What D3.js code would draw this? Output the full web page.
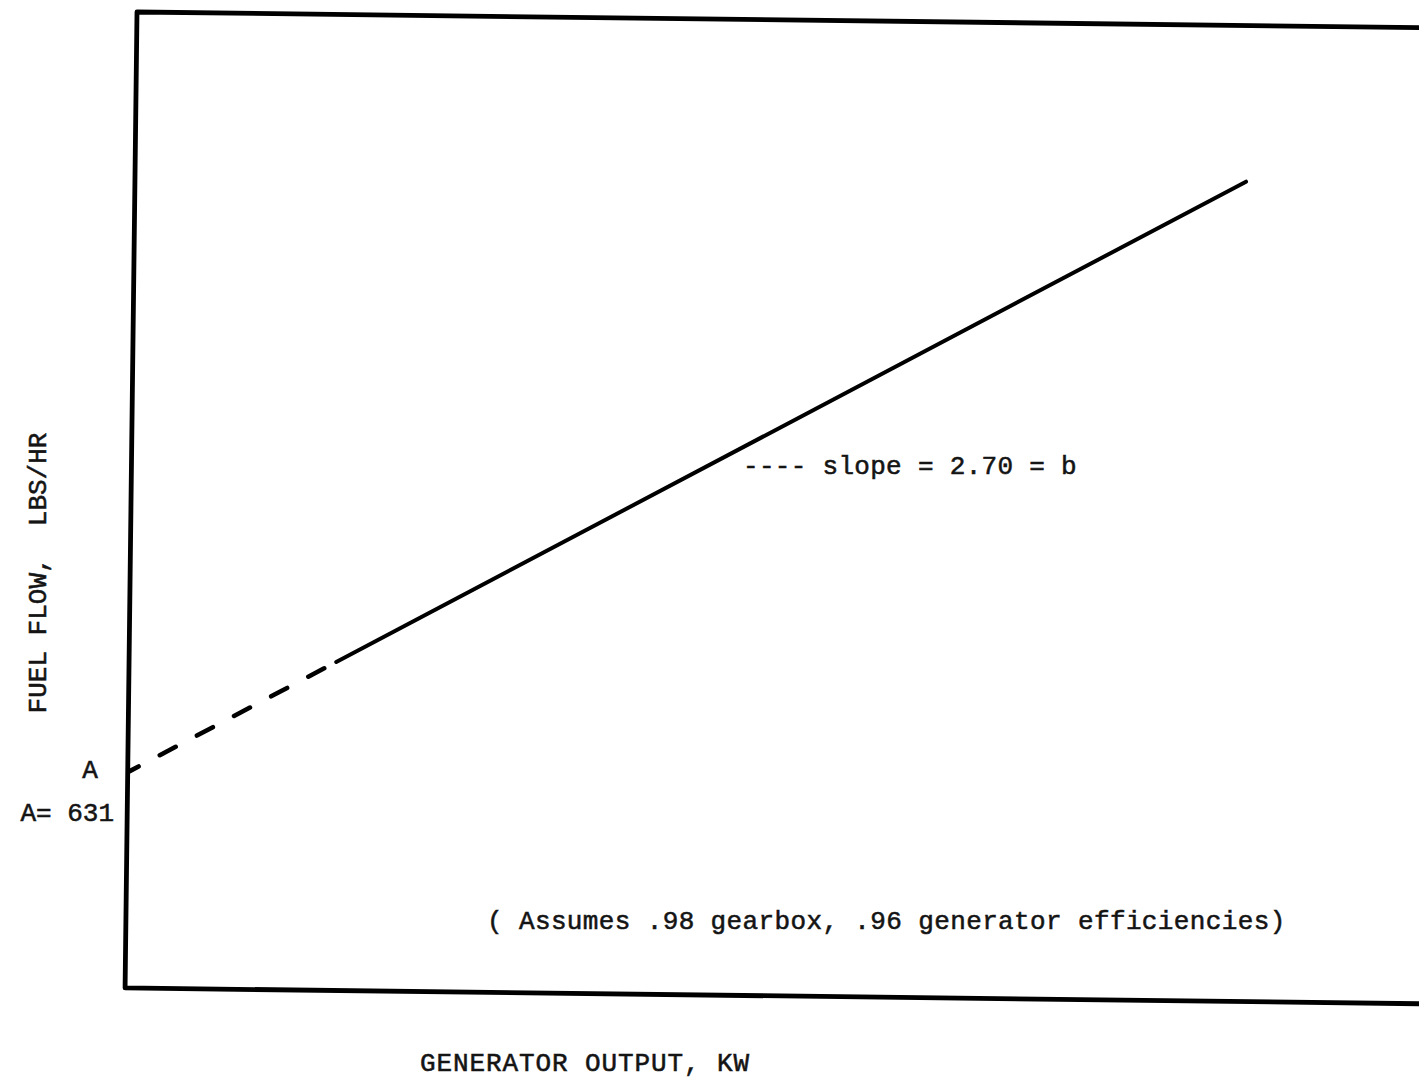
<!DOCTYPE html>
<html><head><meta charset="utf-8">
<script src="https://cdn.jsdelivr.net/npm/d3@7"></script>
<style>
  body { margin: 0; background: #fff; }
  svg { display: block; }
  text { font-family: "Liberation Mono", "DejaVu Sans Mono", monospace; font-size: 26px; fill: #141414; stroke: #141414; stroke-width: 0.55px; }
</style>
</head><body>
<svg id="chart" width="1419" height="1082"></svg>
<script>
// Generator output (kW) vs fuel flow (lbs/hr)
const dashedKW   = [0, 185];
const dashedFuel = [631, 1131];
const solidKW    = [185, 1000];
const solidFuel  = [1131, 3331];

const interceptMark  = "A";
const interceptLabel = "A= 631";
const slopeLabel     = "---- slope = 2.70 = b";
const noteLabel      = "( Assumes .98 gearbox, .96 generator efficiencies)";
const xAxisTitle     = "GENERATOR OUTPUT, KW";
const yAxisTitle     = "FUEL FLOW,  LBS/HR";

const svg = d3.select("#chart");
// the scanned frame and line are slightly tilted
const g = svg.append("g").attr("transform", "rotate(0.7,137,12)");

const plot = { left: 137, top: 12, right: 1460, bottom: 988 };
const x = d3.scaleLinear().domain([0, 1000]).range([139, 1248]);
const y = d3.scaleLinear().domain([-340, 4030]).range([plot.bottom, plot.top]);

// frame
g.append("path")
  .attr("d", `M${plot.right},${plot.top} L${plot.left},${plot.top} L${plot.left},${plot.bottom} L${plot.right},${plot.bottom}`)
  .attr("fill", "none").attr("stroke", "#000").attr("stroke-width", 4.8)
  .attr("stroke-linejoin", "round");

const line = d3.line().x(d => x(d[0])).y(d => y(d[1]));

g.append("path")
  .datum(dashedKW.map((k, i) => [k, dashedFuel[i]]))
  .attr("d", line)
  .attr("fill", "none").attr("stroke", "#000").attr("stroke-width", 4.6)
  .attr("stroke-linecap", "round")
  .attr("stroke-dasharray", "18 24").attr("stroke-dashoffset", 8);

g.append("path")
  .datum(solidKW.map((k, i) => [k, solidFuel[i]]))
  .attr("d", line)
  .attr("fill", "none").attr("stroke", "#000").attr("stroke-width", 4)
  .attr("stroke-linecap", "round");

// typed labels (level, not tilted)
svg.append("text").attr("x", 90).attr("y", 778).attr("text-anchor", "middle").text(interceptMark);
svg.append("text").attr("x", 114).attr("y", 821).attr("text-anchor", "end").text(interceptLabel);
svg.append("text").attr("x", 743).attr("y", 474).attr("letter-spacing", "0.3px").text(slopeLabel);
svg.append("text").attr("x", 487).attr("y", 929).attr("letter-spacing", "0.37px").text(noteLabel);
svg.append("text").attr("x", 585).attr("y", 1071).attr("text-anchor", "middle").attr("letter-spacing", "0.9px").text(xAxisTitle);
svg.append("text")
  .attr("transform", "translate(46,573) rotate(-90)")
  .attr("text-anchor", "middle").attr("xml:space", "preserve")
  .style("white-space", "pre")
  .text(yAxisTitle);
</script>
</body></html>
